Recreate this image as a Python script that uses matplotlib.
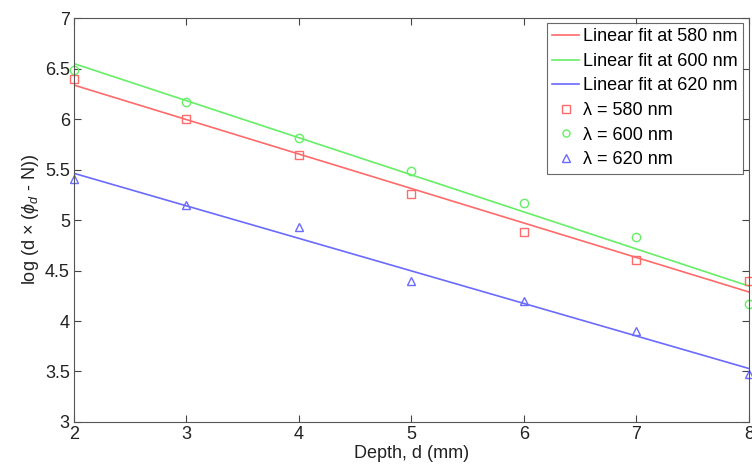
import numpy as np
import matplotlib
matplotlib.use("Agg")
import matplotlib.pyplot as plt

plt.rcParams['font.family'] = ['Liberation Sans', 'DejaVu Sans']
plt.rcParams['mathtext.fontset'] = 'custom'
plt.rcParams['mathtext.rm'] = 'Liberation Sans'
plt.rcParams['mathtext.it'] = 'Liberation Sans:italic'

depth = [2, 3, 4, 5, 6, 7, 8]
y_580 = [6.40, 6.00, 5.64, 5.26, 4.88, 4.60, 4.40]
y_600 = [6.49, 6.17, 5.81, 5.49, 5.17, 4.83, 4.17]
y_620 = [5.41, 5.15, 4.93, 4.40, 4.20, 3.90, 3.48]
wavelengths = [580, 600, 620]

colors = ['#ff6a6a', '#66ee66', '#6a6aff']
markers = ['s', 'o', '^']
series = [y_580, y_600, y_620]
FS = 13

fig = plt.figure(figsize=(7.52, 4.68), dpi=100)
ax = fig.add_axes([0.0984, 0.0983, 0.8976, 0.8632])

x = np.array(depth, dtype=float)
line_handles = []
for ys, c, wl in zip(series, colors, wavelengths):
    k, b = np.polyfit(x, ys, 1)
    h, = ax.plot(x, k * x + b, color=c, lw=1.2, label=f'Linear fit at {wl} nm')
    line_handles.append(h)
mark_handles = []
for ys, c, m, wl in zip(series, colors, markers, wavelengths):
    h, = ax.plot(x, ys, linestyle='none', marker=m, ms=6, mfc='none', mec=c,
                 mew=1.0, label=f'λ = {wl} nm', clip_on=False)
    mark_handles.append(h)

ax.set_xlim(2, 8)
ax.set_ylim(3, 7)
ax.set_xticks(range(2, 9))
ax.set_yticks(np.arange(3, 7.01, 0.5))
ax.set_yticklabels(['3', '3.5', '4', '4.5', '5', '5.5', '6', '6.5', '7'])
ax.tick_params(direction='in', top=True, right=True, length=5, width=0.8,
               colors='#444444', labelsize=FS, labelcolor='#222222', pad=3)
for s in ax.spines.values():
    s.set_color('#555555')
    s.set_linewidth(0.8)

ax.set_xlabel('Depth, d (mm)', fontsize=FS, color='#222222', labelpad=1)
ax.set_ylabel(r'log (d $\times$ ($\phi_d$ - N))', fontsize=FS, color='#222222', labelpad=3)

leg = ax.legend(handles=line_handles + mark_handles, loc='upper right',
                bbox_to_anchor=(0.991, 0.988), fontsize=FS, frameon=True,
                fancybox=False, edgecolor='#444444', handlelength=1.5,
                handletextpad=0.2, borderpad=0.3, labelspacing=0.42,
                borderaxespad=0.0, markerscale=0.85)
leg.get_frame().set_linewidth(0.8)

fig.savefig('out.png', dpi=100)
